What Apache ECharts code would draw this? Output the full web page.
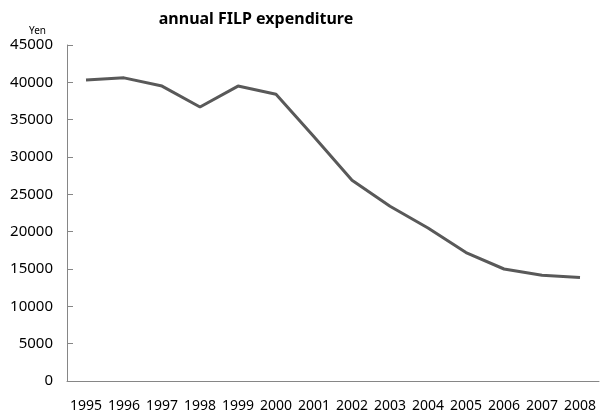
<!DOCTYPE html>
<html><head><meta charset="utf-8">
<script src="https://cdn.jsdelivr.net/npm/echarts@6/dist/echarts.min.js"></script>
<style>html,body{margin:0;padding:0;background:#fff}#c{width:600px;height:420px}</style>
</head><body><div id="c"></div>
<script>
const years = ['1995','1996','1997','1998','1999','2000','2001','2002','2003','2004','2005','2006','2007','2008'];
const expenditure = [40300, 40600, 39500, 36700, 39500, 38400, 32700, 26900, 23400, 20500, 17200, 15000, 14150, 13850];
const chart = echarts.init(document.getElementById('c'));
chart.setOption({
  animation: false,
  title: {
    text: 'annual FILP expenditure', left: 251, top: 6, textAlign: 'center',
    textStyle: { fontFamily: 'Noto Sans', fontSize: 16, fontWeight: 'bold', color: '#000' }
  },
  grid: { left: 67, right: 1, top: 45, bottom: 39 },
  xAxis: {
    type: 'category', data: years, boundaryGap: true,
    axisLine: { lineStyle: { color: '#868686', width: 1 } },
    axisTick: { inside: true, length: 5, lineStyle: { color: '#868686' } },
    axisLabel: { margin: 18, fontFamily: 'Noto Sans', fontSize: 14, color: '#000', interval: 0 }
  },
  yAxis: {
    type: 'value', min: 0, max: 45000, interval: 5000,
    name: 'Yen', nameLocation: 'end', nameGap: 9,
    nameTextStyle: { fontFamily: 'Noto Sans', fontSize: 10, color: '#000', align: 'right', padding: [0, 21, 0, 0] },
    axisLine: { show: true, lineStyle: { color: '#868686', width: 1 } },
    axisTick: { show: true, inside: true, length: 6, lineStyle: { color: '#868686' } },
    splitLine: { show: false },
    axisLabel: { margin: 14, fontFamily: 'Noto Sans', fontSize: 15, color: '#000', formatter: v => String(v) }
  },
  series: [{
    type: 'line', data: expenditure, symbol: 'none',
    lineStyle: { color: '#595959', width: 3 }
  }]
});
</script></body></html>
